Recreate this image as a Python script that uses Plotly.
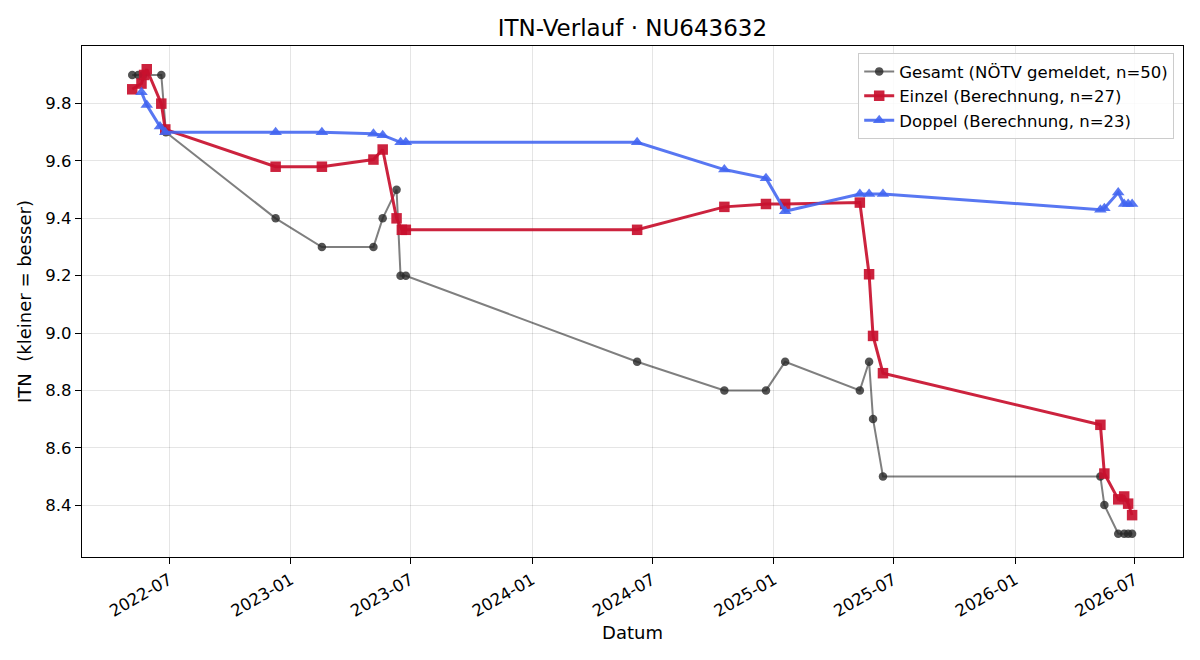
import plotly.graph_objects as go

# Gesamt (NÖTV gemeldet)
g_dates = ["2022-05-06", "2022-05-15", "2022-05-23", "2022-06-19", "2022-06-26",
           "2022-12-09", "2023-02-17", "2023-05-06", "2023-05-20", "2023-06-10",
           "2023-06-16", "2023-06-24", "2024-06-08", "2024-10-18", "2024-12-20",
           "2025-01-18", "2025-05-11", "2025-05-25", "2025-05-31", "2025-06-15",
           "2026-05-10", "2026-05-16", "2026-06-06", "2026-06-15", "2026-06-21",
           "2026-06-27"]
g_vals = [9.9, 9.9, 9.9, 9.9, 9.7,
          9.4, 9.3, 9.3, 9.4, 9.5,
          9.2, 9.2, 8.9, 8.8, 8.8,
          8.9, 8.8, 8.9, 8.7, 8.5,
          8.5, 8.4, 8.3, 8.3, 8.3,
          8.3]

# Einzel (Berechnung)
e_dates = ["2022-05-06", "2022-05-20", "2022-05-24", "2022-05-28", "2022-06-19", "2022-06-25",
           "2022-12-09", "2023-02-17", "2023-05-06", "2023-05-20", "2023-06-10",
           "2023-06-18", "2023-06-24", "2024-06-08", "2024-10-18", "2024-12-20",
           "2025-01-18", "2025-05-11", "2025-05-25", "2025-05-31", "2025-06-15",
           "2026-05-10", "2026-05-16", "2026-06-06", "2026-06-15", "2026-06-21",
           "2026-06-27"]
e_vals = [9.85, 9.87, 9.90, 9.92, 9.80, 9.71,
          9.58, 9.58, 9.605, 9.64, 9.40,
          9.36, 9.36, 9.36, 9.44, 9.45,
          9.45, 9.455, 9.205, 8.99, 8.86,
          8.68, 8.51, 8.42, 8.43, 8.405,
          8.365]

# Doppel (Berechnung)
d_dates = ["2022-05-20", "2022-05-28", "2022-06-17", "2022-06-25",
           "2022-12-09", "2023-02-17", "2023-05-06", "2023-05-20",
           "2023-06-16", "2023-06-24", "2024-06-08", "2024-10-18",
           "2024-12-20", "2025-01-18", "2025-05-11", "2025-05-25",
           "2025-06-15", "2026-05-10", "2026-05-16", "2026-06-06",
           "2026-06-15", "2026-06-21", "2026-06-27"]
d_vals = [9.84, 9.795, 9.72, 9.70,
          9.70, 9.70, 9.695, 9.69,
          9.665, 9.665, 9.665, 9.57,
          9.54, 9.425, 9.485, 9.485,
          9.485, 9.43, 9.435, 9.49,
          9.45, 9.45, 9.45]

x_ticks = ["2022-07-01", "2023-01-01", "2023-07-01", "2024-01-01", "2024-07-01",
           "2025-01-01", "2025-07-01", "2026-01-01", "2026-07-01"]
x_tick_labels = ["2022-07", "2023-01", "2023-07", "2024-01", "2024-07",
                 "2025-01", "2025-07", "2026-01", "2026-07"]
y_ticks = [8.4, 8.6, 8.8, 9.0, 9.2, 9.4, 9.6, 9.8]

FONT = "DejaVu Sans"

fig = go.Figure()
fig.add_trace(go.Scatter(
    x=g_dates, y=g_vals, mode="lines+markers",
    name="Gesamt (NÖTV gemeldet, n=50)",
    line=dict(color="rgba(0,0,0,0.5)", width=2),
    marker=dict(symbol="circle", size=8.5, color="rgba(40,40,40,0.8)", line=dict(width=0)),
))
fig.add_trace(go.Scatter(
    x=e_dates, y=e_vals, mode="lines+markers",
    name="Einzel (Berechnung, n=27)",
    line=dict(color="rgba(200,16,46,0.92)", width=3),
    marker=dict(symbol="square", size=10.5, color="rgba(200,16,46,0.92)", line=dict(width=0)),
))
fig.add_trace(go.Scatter(
    x=d_dates, y=d_vals, mode="lines+markers",
    name="Doppel (Berechnung, n=23)",
    line=dict(color="rgba(65,100,240,0.88)", width=3),
    marker=dict(symbol="triangle-up", size=11, color="rgba(65,100,240,0.88)", line=dict(width=0)),
))

fig.update_layout(
    width=1200, height=660,
    margin=dict(l=82, r=17, t=46, b=103),
    paper_bgcolor="white", plot_bgcolor="white",
    font=dict(family=FONT, size=16.5, color="black"),
    title=dict(text="ITN-Verlauf · NU643632", x=0.527, xanchor="center",
               y=1 - 28 / 660, yanchor="middle", font=dict(size=23, family=FONT)),
    legend=dict(x=0.992, y=0.986, xanchor="right", yanchor="top",
                bgcolor="rgba(255,255,255,0.85)", bordercolor="#cccccc", borderwidth=1,
                font=dict(size=16.5, family=FONT), itemwidth=30, tracegroupgap=0),
    showlegend=True,
)
fig.update_xaxes(
    range=["2022-02-19", "2026-09-12"],
    tickvals=x_ticks, ticktext=x_tick_labels, tickangle=-30,
    showgrid=True, gridcolor="rgba(0,0,0,0.1)", gridwidth=1,
    showline=True, linecolor="black", linewidth=1.3, mirror=True,
    ticks="outside", ticklen=6, tickwidth=1.3, tickcolor="black",
    zeroline=False,
    title=dict(text="Datum", font=dict(size=18), standoff=6),
    tickfont=dict(size=16.5),
)
fig.update_yaxes(
    range=[8.219, 10.001],
    tickvals=y_ticks, ticktext=[f"{v:.1f}" for v in y_ticks],
    showgrid=True, gridcolor="rgba(0,0,0,0.1)", gridwidth=1,
    showline=True, linecolor="black", linewidth=1.3, mirror=True,
    ticks="outside", ticklen=6, tickwidth=1.3, tickcolor="black",
    zeroline=False,
    title=dict(text="ITN  (kleiner = besser)", font=dict(size=18), standoff=8),
    tickfont=dict(size=16.5),
)

fig.write_html("out.html")
